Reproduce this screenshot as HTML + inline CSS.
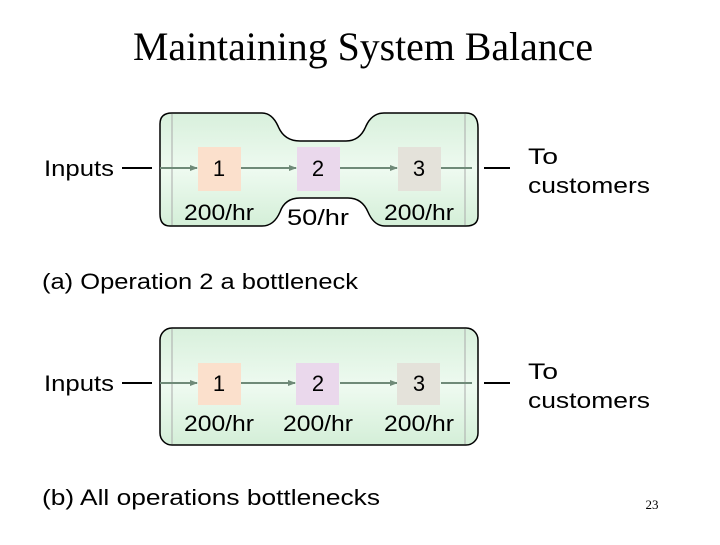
<!DOCTYPE html>
<html><head><style>
body{margin:0;width:720px;height:540px;background:#fff;overflow:hidden}
svg text{font-family:"Liberation Sans",sans-serif;font-size:22px;fill:#000}
</style></head><body>
<svg width="720" height="540" viewBox="0 0 720 540">
<defs>
<linearGradient id="g" x1="0" y1="0" x2="0" y2="1">
<stop offset="0" stop-color="#d8f0dc"/><stop offset="0.5" stop-color="#eefaf0"/><stop offset="1" stop-color="#d4efd8"/></linearGradient>
<marker id="ar" markerWidth="8" markerHeight="8" refX="7" refY="4" orient="auto" markerUnits="userSpaceOnUse"><path d="M0,1 L8,4 L0,7Z" fill="#6f8a78"/></marker>
</defs>
<text x="133" y="60" textLength="460" lengthAdjust="spacingAndGlyphs" style="font-family:'Liberation Serif',serif;font-size:40px">Maintaining System Balance</text>

<!-- (a) -->
<path d="M172,113 L262,113 Q272,113 278,126 Q284,141 300,141 L346,141 Q360,141 366,126 Q372,113 384,113 L466,113 Q478,113 478,128 L478,216 Q478,226 466,226 L385,226 Q374,226 368,212 Q362,198 348,198 L300,198 Q285,198 280,212 Q274,226 262,226 L170,226 Q160,226 160,214 L160,124 Q160,113 172,113Z" fill="url(#g)" stroke="#000" stroke-width="1.5"/>
<line x1="172" y1="114" x2="172" y2="225" stroke="#aaa"/><line x1="465" y1="114" x2="465" y2="225" stroke="#aaa"/>
<line x1="122" y1="168" x2="152" y2="168" stroke="#000" stroke-width="2"/>
<line x1="160" y1="168" x2="197" y2="168" stroke="#6f8a78" stroke-width="2" marker-end="url(#ar)"/>
<line x1="241" y1="168" x2="296" y2="168" stroke="#6f8a78" stroke-width="2" marker-end="url(#ar)"/>
<line x1="340" y1="168" x2="397" y2="168" stroke="#6f8a78" stroke-width="2" marker-end="url(#ar)"/>
<line x1="441" y1="168" x2="472" y2="168" stroke="#6f8a78" stroke-width="2"/>
<line x1="484" y1="168" x2="510" y2="168" stroke="#000" stroke-width="2"/>
<rect x="198" y="147" width="43" height="44" fill="#fbe0cc"/>
<rect x="297" y="147" width="43" height="44" fill="#ead8ec"/>
<rect x="398" y="147" width="43" height="44" fill="#e4e2da"/>
<text x="219" y="176" text-anchor="middle">1</text>
<text x="318" y="176" text-anchor="middle">2</text>
<text x="419" y="176" text-anchor="middle">3</text>
<text x="184" y="220" textLength="70" lengthAdjust="spacingAndGlyphs">200/hr</text>
<text x="287" y="225" textLength="62" lengthAdjust="spacingAndGlyphs">50/hr</text>
<text x="384" y="220" textLength="70" lengthAdjust="spacingAndGlyphs">200/hr</text>
<text x="44" y="176" textLength="70" lengthAdjust="spacingAndGlyphs">Inputs</text>
<text x="528" y="164" textLength="30" lengthAdjust="spacingAndGlyphs">To</text>
<text x="528" y="193" textLength="122" lengthAdjust="spacingAndGlyphs">customers</text>
<text x="42" y="289" textLength="316" lengthAdjust="spacingAndGlyphs">(a) Operation 2 a bottleneck</text>

<!-- (b) -->
<rect x="160" y="328" width="318" height="117" rx="12" fill="url(#g)" stroke="#000" stroke-width="1.5"/>
<line x1="172" y1="329" x2="172" y2="444" stroke="#aaa"/><line x1="465" y1="329" x2="465" y2="444" stroke="#aaa"/>
<line x1="122" y1="383" x2="152" y2="383" stroke="#000" stroke-width="2"/>
<line x1="160" y1="383" x2="197" y2="383" stroke="#6f8a78" stroke-width="2" marker-end="url(#ar)"/>
<line x1="241" y1="383" x2="295" y2="383" stroke="#6f8a78" stroke-width="2" marker-end="url(#ar)"/>
<line x1="340" y1="383" x2="397" y2="383" stroke="#6f8a78" stroke-width="2" marker-end="url(#ar)"/>
<line x1="441" y1="383" x2="472" y2="383" stroke="#6f8a78" stroke-width="2"/>
<line x1="484" y1="383" x2="510" y2="383" stroke="#000" stroke-width="2"/>
<rect x="198" y="363" width="43" height="42" fill="#fbe0cc"/>
<rect x="296" y="363" width="43" height="42" fill="#ead8ec"/>
<rect x="397" y="363" width="43" height="42" fill="#e4e2da"/>
<text x="219" y="391" text-anchor="middle">1</text>
<text x="318" y="391" text-anchor="middle">2</text>
<text x="419" y="391" text-anchor="middle">3</text>
<text x="184" y="431" textLength="70" lengthAdjust="spacingAndGlyphs">200/hr</text>
<text x="283" y="431" textLength="70" lengthAdjust="spacingAndGlyphs">200/hr</text>
<text x="384" y="431" textLength="70" lengthAdjust="spacingAndGlyphs">200/hr</text>
<text x="44" y="391" textLength="70" lengthAdjust="spacingAndGlyphs">Inputs</text>
<text x="528" y="379" textLength="30" lengthAdjust="spacingAndGlyphs">To</text>
<text x="528" y="408" textLength="122" lengthAdjust="spacingAndGlyphs">customers</text>
<text x="42" y="505" textLength="338" lengthAdjust="spacingAndGlyphs">(b) All operations bottlenecks</text>
<text x="652" y="509" text-anchor="middle" style="font-family:'Liberation Serif',serif;font-size:13px">23</text>
</svg>
</body></html>
